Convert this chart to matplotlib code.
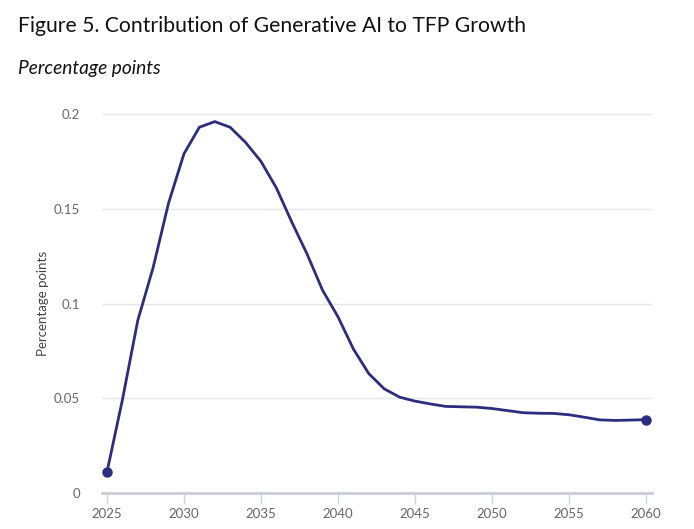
import numpy as np
import matplotlib
matplotlib.use('Agg')
import matplotlib.pyplot as plt

plt.rcParams['font.family'] = ['Lato', 'DejaVu Sans']

years = list(range(2025, 2061))
tfp_contribution = [
    0.011, 0.049, 0.091, 0.119, 0.153, 0.179, 0.193, 0.196, 0.193, 0.185,
    0.175, 0.161, 0.143, 0.126, 0.107, 0.093, 0.076, 0.063, 0.055, 0.0506,
    0.0485, 0.047, 0.0457, 0.0455, 0.0453, 0.0446, 0.0435, 0.0424, 0.0421, 0.0420,
    0.0413, 0.0400, 0.0386, 0.0383, 0.0385, 0.0387,
]
x_ticks = [2025, 2030, 2035, 2040, 2045, 2050, 2055, 2060]
y_ticks = [0, 0.05, 0.1, 0.15, 0.2]
y_tick_labels = ['0', '0.05', '0.1', '0.15', '0.2']

LINE = '#2b2d7f'
TICK_GRAY = '#666666'

fig = plt.figure(figsize=(6.94, 5.29), dpi=100)
ax = fig.add_axes([0.147, 0.068, 0.7925, 0.7165])

ax.plot(years, tfp_contribution, color=LINE, linewidth=2, solid_joinstyle='round')
ax.plot([years[0], years[-1]], [tfp_contribution[0], tfp_contribution[-1]],
        'o', color=LINE, markersize=6.5, zorder=3)

ax.set_xlim(2024.68, 2060.39)
ax.set_ylim(0, 0.2)
ax.set_xticks(x_ticks)
ax.set_yticks(y_ticks)
ax.set_yticklabels(y_tick_labels)

ax.grid(axis='y', color='#e6e6e6', linewidth=1)
ax.set_axisbelow(True)
for s in ['top', 'right', 'left']:
    ax.spines[s].set_visible(False)
ax.spines['bottom'].set_color('#c8ccd4')
ax.spines['bottom'].set_linewidth(2)

ax.tick_params(axis='x', colors='#ccd6eb', length=8, width=1, labelcolor=TICK_GRAY,
               labelsize=9.5, pad=3)
ax.tick_params(axis='y', length=0, labelcolor=TICK_GRAY, labelsize=9.5, pad=16)

ax.set_ylabel('Percentage points', color='#444444', fontsize=9.5, labelpad=3)

fig.text(0.026, 0.950, 'Figure 5. Contribution of Generative AI to TFP Growth',
         fontsize=15.2, color='#111111', ha='left', va='center')
fig.text(0.026, 0.870, 'Percentage points', fontsize=13.8, style='italic',
         color='#111111', ha='left', va='center')

fig.savefig('out.png', dpi=100)
